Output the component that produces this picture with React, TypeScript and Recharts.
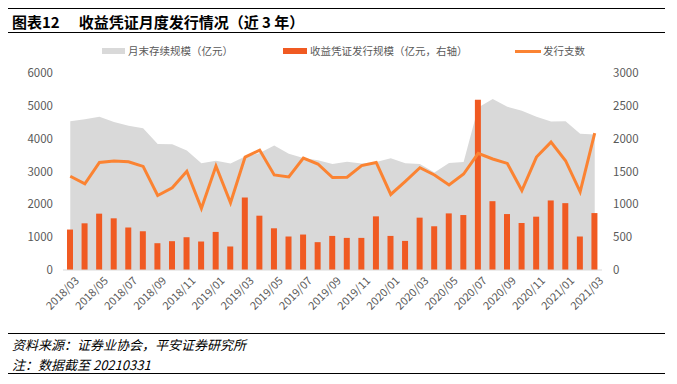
import React from 'react'
import { ComposedChart, Area, Bar, Line, XAxis, YAxis } from 'recharts'

const months = [
  '2018/03', '2018/04', '2018/05', '2018/06', '2018/07', '2018/08', '2018/09', '2018/10', '2018/11', '2018/12',
  '2019/01', '2019/02', '2019/03', '2019/04', '2019/05', '2019/06', '2019/07', '2019/08', '2019/09', '2019/10',
  '2019/11', '2019/12', '2020/01', '2020/02', '2020/03', '2020/04', '2020/05', '2020/06', '2020/07', '2020/08',
  '2020/09', '2020/10', '2020/11', '2020/12', '2021/01', '2021/02', '2021/03',
]

// 月末存续规模（亿元，左轴）
const stock = [
  4530, 4590, 4670, 4510, 4390, 4320, 3840, 3830, 3640, 3250,
  3330, 3240, 3460, 3560, 3790, 3540, 3410, 3340, 3230, 3300,
  3240, 3290, 3400, 3250, 3230, 2970, 3260, 3290, 4950, 5210,
  4970, 4850, 4670, 4520, 4530, 4150, 4130,
]

// 收益凭证发行规模（亿元，右轴）
const issuance = [
  616, 711, 858, 787, 646, 590, 408, 439, 499, 434,
  580, 358, 1104, 827, 635, 510, 540, 424, 519, 489,
  489, 817, 519, 443, 797, 666, 862, 837, 2592, 1048,
  852, 716, 812, 1059, 1018, 510, 867,
]

// 发行支数（右轴）
const count = [
  1427, 1311, 1638, 1659, 1649, 1578, 1135, 1251, 1503, 938,
  1583, 1024, 1720, 1826, 1447, 1417, 1705, 1614, 1407, 1412,
  1589, 1638, 1150, 1351, 1558, 1447, 1296, 1462, 1775, 1690,
  1623, 1210, 1720, 1947, 1664, 1190, 2083,
]

const leftTicks = [0, 1000, 2000, 3000, 4000, 5000, 6000]
const rightTicks = [0, 500, 1000, 1500, 2000, 2500, 3000]

const data = months.map((m, i) => ({
  month: m,
  stock: stock[i],
  issuance: issuance[i],
  count: count[i],
}))

const FONT = '"Noto Sans CJK SC", "Noto Sans", sans-serif'
const GRAY = '#d9d9d9'
const BAR = '#f05a22'
const LINE = '#fb8332'
const TXT = '#595959'

function XTick({ x, y, payload }: any) {
  return (
    <text
      x={x + 4}
      y={y - 2}
      transform={`rotate(-45 ${x + 4} ${y - 2})`}
      textAnchor="end"
      dy="0.7em"
      fontSize={11}
      fill={TXT}
      fontFamily={FONT}
    >
      {payload.value}
    </text>
  )
}

function Rule({ top }: { top: number }) {
  return <div style={{ position: 'absolute', left: 8, width: 657, top, height: 1.5, background: '#000' }} />
}

export default function App() {
  return (
    <div style={{ position: 'absolute', left: 0, top: 0, width: 677, height: 384, background: '#fff', fontFamily: FONT }}>
      <Rule top={7.5} />
      <div style={{ position: 'absolute', left: 12, top: 11, fontSize: 15, fontWeight: 700, color: '#000', whiteSpace: 'nowrap' }}>
        图表12<span style={{ display: 'inline-block', width: 19 }} />收益凭证月度发行情况（近 3 年）
      </div>
      <Rule top={31.5} />

      <div style={{ position: 'absolute', top: 43, left: 0, width: 677, height: 16, fontSize: 10.5, color: TXT }}>
        <div style={{ position: 'absolute', left: 102, top: 5, width: 23, height: 6, background: GRAY }} />
        <div style={{ position: 'absolute', left: 128, top: 0, whiteSpace: 'nowrap' }}>月末存续规模（亿元）</div>
        <div style={{ position: 'absolute', left: 283, top: 5, width: 24, height: 6, background: BAR }} />
        <div style={{ position: 'absolute', left: 310, top: 0, whiteSpace: 'nowrap' }}>收益凭证发行规模（亿元，右轴）</div>
        <div style={{ position: 'absolute', left: 515, top: 6.5, width: 26, height: 3, background: LINE }} />
        <div style={{ position: 'absolute', left: 543, top: 0, whiteSpace: 'nowrap' }}>发行支数</div>
      </div>

      <div style={{ position: 'absolute', left: 0, top: 0 }}>
        <ComposedChart
          width={677}
          height={384}
          data={data}
          margin={{ top: 73, right: 25, bottom: 113, left: 13 }}
        >
          <XAxis
            dataKey="month"
            interval={1}
            tickLine={false}
            axisLine={{ stroke: GRAY }}
            tick={<XTick />}
            height={1}
          />
          <YAxis
            yAxisId="left"
            domain={[0, 6000]}
            ticks={leftTicks}
            width={50}
            axisLine={false}
            tickLine={false}
            tickMargin={4}
            tick={{ fontSize: 11.5, fill: TXT, fontFamily: FONT }}
          />
          <YAxis
            yAxisId="right"
            orientation="right"
            domain={[0, 3000]}
            ticks={rightTicks}
            width={50}
            axisLine={false}
            tickLine={false}
            tickMargin={5}
            tick={{ fontSize: 11.5, fill: TXT, fontFamily: FONT, textAnchor: 'start' }}
          />
          <Area
            yAxisId="left"
            type="linear"
            dataKey="stock"
            stroke="none"
            fill={GRAY}
            fillOpacity={1}
            isAnimationActive={false}
          />
          <Bar yAxisId="right" dataKey="issuance" fill={BAR} barSize={6} isAnimationActive={false} />
          <Line
            yAxisId="right"
            type="linear"
            dataKey="count"
            stroke={LINE}
            strokeWidth={3}
            dot={false}
            isAnimationActive={false}
          />
        </ComposedChart>
      </div>

      <Rule top={332.5} />
      <div style={{ position: 'absolute', left: 12, top: 335, fontSize: 13, fontStyle: 'italic', color: '#000', whiteSpace: 'nowrap' }}>
        资料来源：证券业协会，平安证券研究所
      </div>
      <div style={{ position: 'absolute', left: 12, top: 355, fontSize: 13, fontStyle: 'italic', color: '#000', whiteSpace: 'nowrap' }}>
        注：数据截至 20210331
      </div>
      <Rule top={372.5} />
    </div>
  )
}
